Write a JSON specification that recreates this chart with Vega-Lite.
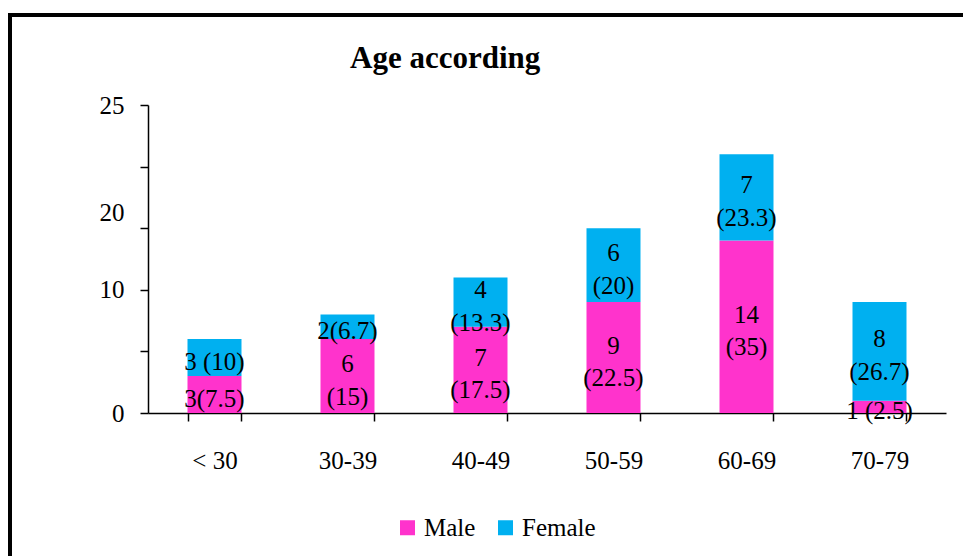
{
  "$schema": "https://vega.github.io/schema/vega-lite/v6.json",
  "autosize": "none",
  "padding": {"left": 10, "top": 15, "right": 0, "bottom": 0},
  "width": 970,
  "height": 560,
  "background": "white",
  "config": {
    "font": "Liberation Serif",
    "view": {"stroke": "black", "strokeWidth": 4, "fill": "white"}
  },
  "title": {
    "text": "Age according",
    "font": "Liberation Serif",
    "fontSize": 31,
    "fontWeight": "bold",
    "color": "black",
    "anchor": "start",
    "frame": "group",
    "baseline": "alphabetic",
    "dx": 340,
    "offset": -84
  },
  "data": {
    "values": [
      {"age": "< 30", "sex": "Male", "order": 1, "count": 3, "label": "3(7.5)"},
      {"age": "< 30", "sex": "Female", "order": 2, "count": 3, "label": "3 (10)"},
      {"age": "30-39", "sex": "Male", "order": 1, "count": 6, "label": "6\n(15)"},
      {"age": "30-39", "sex": "Female", "order": 2, "count": 2, "label": "2(6.7)"},
      {"age": "40-49", "sex": "Male", "order": 1, "count": 7, "label": "7\n(17.5)"},
      {"age": "40-49", "sex": "Female", "order": 2, "count": 4, "label": "4\n(13.3)"},
      {"age": "50-59", "sex": "Male", "order": 1, "count": 9, "label": "9\n(22.5)"},
      {"age": "50-59", "sex": "Female", "order": 2, "count": 6, "label": "6\n(20)"},
      {"age": "60-69", "sex": "Male", "order": 1, "count": 14, "label": "14\n(35)"},
      {"age": "60-69", "sex": "Female", "order": 2, "count": 7, "label": "7\n(23.3)"},
      {"age": "70-79", "sex": "Male", "order": 1, "count": 1, "label": "1 (2.5)"},
      {"age": "70-79", "sex": "Female", "order": 2, "count": 8, "label": "8\n(26.7)"}
    ]
  },
  "transform": [
    {"stack": "count", "groupby": ["age"], "sort": [{"field": "order", "order": "ascending"}], "as": ["y0", "y1"]},
    {"calculate": "(datum.y0 + datum.y1) / 2", "as": "mid"}
  ],
  "encoding": {
    "x": {
      "field": "age",
      "type": "nominal",
      "sort": ["< 30", "30-39", "40-49", "50-59", "60-69", "70-79"],
      "scale": {"range": [138, 936], "paddingInner": 0.594, "paddingOuter": 0.297},
      "axis": {
        "title": null,
        "orient": "bottom",
        "offset": -162,
        "tickBand": "extent",
        "domainColor": "black",
        "domainWidth": 1.5,
        "tickColor": "black",
        "tickWidth": 1.5,
        "tickSize": 8,
        "labelAngle": 0,
        "labelFont": "Liberation Serif",
        "labelFontSize": 25,
        "labelColor": "black",
        "labelPadding": 27,
        "grid": false
      }
    }
  },
  "layer": [
    {
      "mark": {"type": "bar", "stroke": null},
      "encoding": {
        "y": {
          "field": "y1",
          "type": "quantitative",
          "scale": {"domain": [0, 25], "range": [398, 90], "nice": false, "zero": true},
          "axis": {
            "title": null,
            "orient": "left",
            "offset": -138,
            "values": [0, 5, 10, 15, 20, 25],
            "labelExpr": "datum.value == 5 || datum.value == 15 ? '' : datum.label",
            "labelOffset": {"condition": {"test": "datum.value == 20", "value": 46}, "value": 0},
            "domainColor": "black",
            "domainWidth": 1.5,
            "tickColor": "black",
            "tickWidth": 1.5,
            "tickSize": 8,
            "labelFont": "Liberation Serif",
            "labelFontSize": 25,
            "labelColor": "black",
            "labelPadding": 16,
            "grid": false
          }
        },
        "y2": {"field": "y0"},
        "color": {
          "field": "sex",
          "type": "nominal",
          "scale": {"domain": ["Male", "Female"], "range": ["#FF33CC", "#00B0F0"]},
          "legend": {
            "title": null,
            "orient": "none",
            "direction": "horizontal",
            "legendX": 385,
            "legendY": 500,
            "symbolType": "square",
            "symbolSize": 225,
            "symbolStrokeWidth": 0,
            "symbolOpacity": 1,
            "labelFont": "Liberation Serif",
            "labelFontSize": 25,
            "labelColor": "black",
            "labelOffset": 4,
            "columnPadding": 17
          }
        }
      }
    },
    {
      "transform": [{"filter": "indexof(datum.label, '\\n') < 0"}],
      "mark": {
        "type": "text",
        "font": "Liberation Serif",
        "fontSize": 25,
        "color": "black",
        "baseline": "middle",
        "align": "center",
        "dy": 4
      },
      "encoding": {
        "y": {"field": "mid", "type": "quantitative"},
        "text": {"field": "label"}
      }
    },
    {
      "transform": [{"filter": "indexof(datum.label, '\\n') >= 0"}],
      "mark": {
        "type": "text",
        "font": "Liberation Serif",
        "fontSize": 25,
        "color": "black",
        "baseline": "middle",
        "align": "center",
        "lineBreak": "\n",
        "lineHeight": 32.5,
        "dy": -12
      },
      "encoding": {
        "y": {"field": "mid", "type": "quantitative"},
        "text": {"field": "label"}
      }
    }
  ]
}
